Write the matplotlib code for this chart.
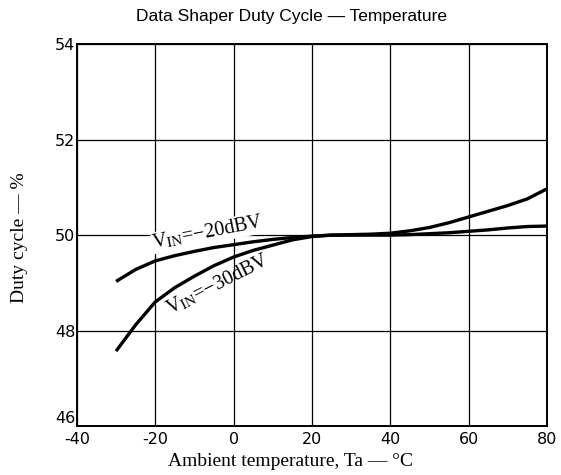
import matplotlib
matplotlib.use("Agg")
import matplotlib.pyplot as plt

# temperature (deg C) and duty cycle (%)
temps = [-30, -25, -20, -15, -10, -5, 0, 5, 10, 15, 20, 25,
         30, 35, 40, 45, 50, 55, 60, 65, 70, 75, 80]
duty_20dbv = [49.03, 49.28, 49.46, 49.57, 49.66, 49.74, 49.80, 49.86,
              49.91, 49.95, 49.98, 50.00, 50.00, 50.00, 50.00, 50.01,
              50.03, 50.05, 50.08, 50.11, 50.15, 50.18, 50.19]
duty_30dbv = [47.57, 48.12, 48.60, 48.90, 49.14, 49.36, 49.54, 49.68,
              49.79, 49.90, 49.97, 50.00, 50.01, 50.02, 50.04, 50.09,
              50.16, 50.26, 50.38, 50.50, 50.62, 50.76, 50.97]

xticks = [-40, -20, 0, 20, 40, 60, 80]
yticks = [46, 48, 50, 52, 54]

plt.rcParams["mathtext.fontset"] = "stix"

fig = plt.figure(figsize=(5.61, 4.75), dpi=100)
ax = fig.add_axes([0.137, 0.103, 0.838, 0.804])

ax.plot(temps, duty_20dbv, color="black", lw=2.4, solid_capstyle="butt")
ax.plot(temps, duty_30dbv, color="black", lw=2.4, solid_capstyle="butt")

ax.set_xlim(-40, 80)
ax.set_ylim(46, 54)
ax.set_xticks(xticks)
ax.set_yticks(yticks)
ax.grid(True, color="black", lw=0.9)
ax.set_axisbelow(True)
for s in ax.spines.values():
    s.set_linewidth(1.4)
ax.tick_params(length=0, labelsize=11.5)
ax.tick_params(axis="x", pad=4)
ax.tick_params(axis="y", pad=1)
ax.set_xticklabels([str(t) for t in xticks], fontfamily="DejaVu Sans")
ax.set_yticklabels([str(t) for t in yticks], fontfamily="DejaVu Sans")
ax.get_yticklabels()[0].set_va("bottom")

ax.text(-6.5, 50.05, r"V$_{\rm IN}$=−20dBV", fontfamily="Liberation Serif",
        fontsize=14.5, rotation=11, ha="center", va="center",
        bbox=dict(facecolor="white", edgecolor="none", pad=0.5))
ax.text(-4.0, 48.97, r"V$_{\rm IN}$=−30dBV", fontfamily="Liberation Serif",
        fontsize=14.5, rotation=27, ha="center", va="center")

fig.text(0.52, 1 - 17 / 475, "Data Shaper Duty Cycle — Temperature",
         fontfamily="Liberation Sans", fontsize=12.5, ha="center", va="center")
fig.text(0.517, 1 - 462 / 475, "Ambient temperature, Ta — °C",
         fontfamily="Liberation Serif", fontsize=14, ha="center", va="center")
fig.text(20 / 561, 1 - 238 / 475, "Duty cycle — %", fontfamily="Liberation Serif",
         fontsize=14, rotation=90, ha="center", va="center")

fig.savefig("out.png", dpi=100)
